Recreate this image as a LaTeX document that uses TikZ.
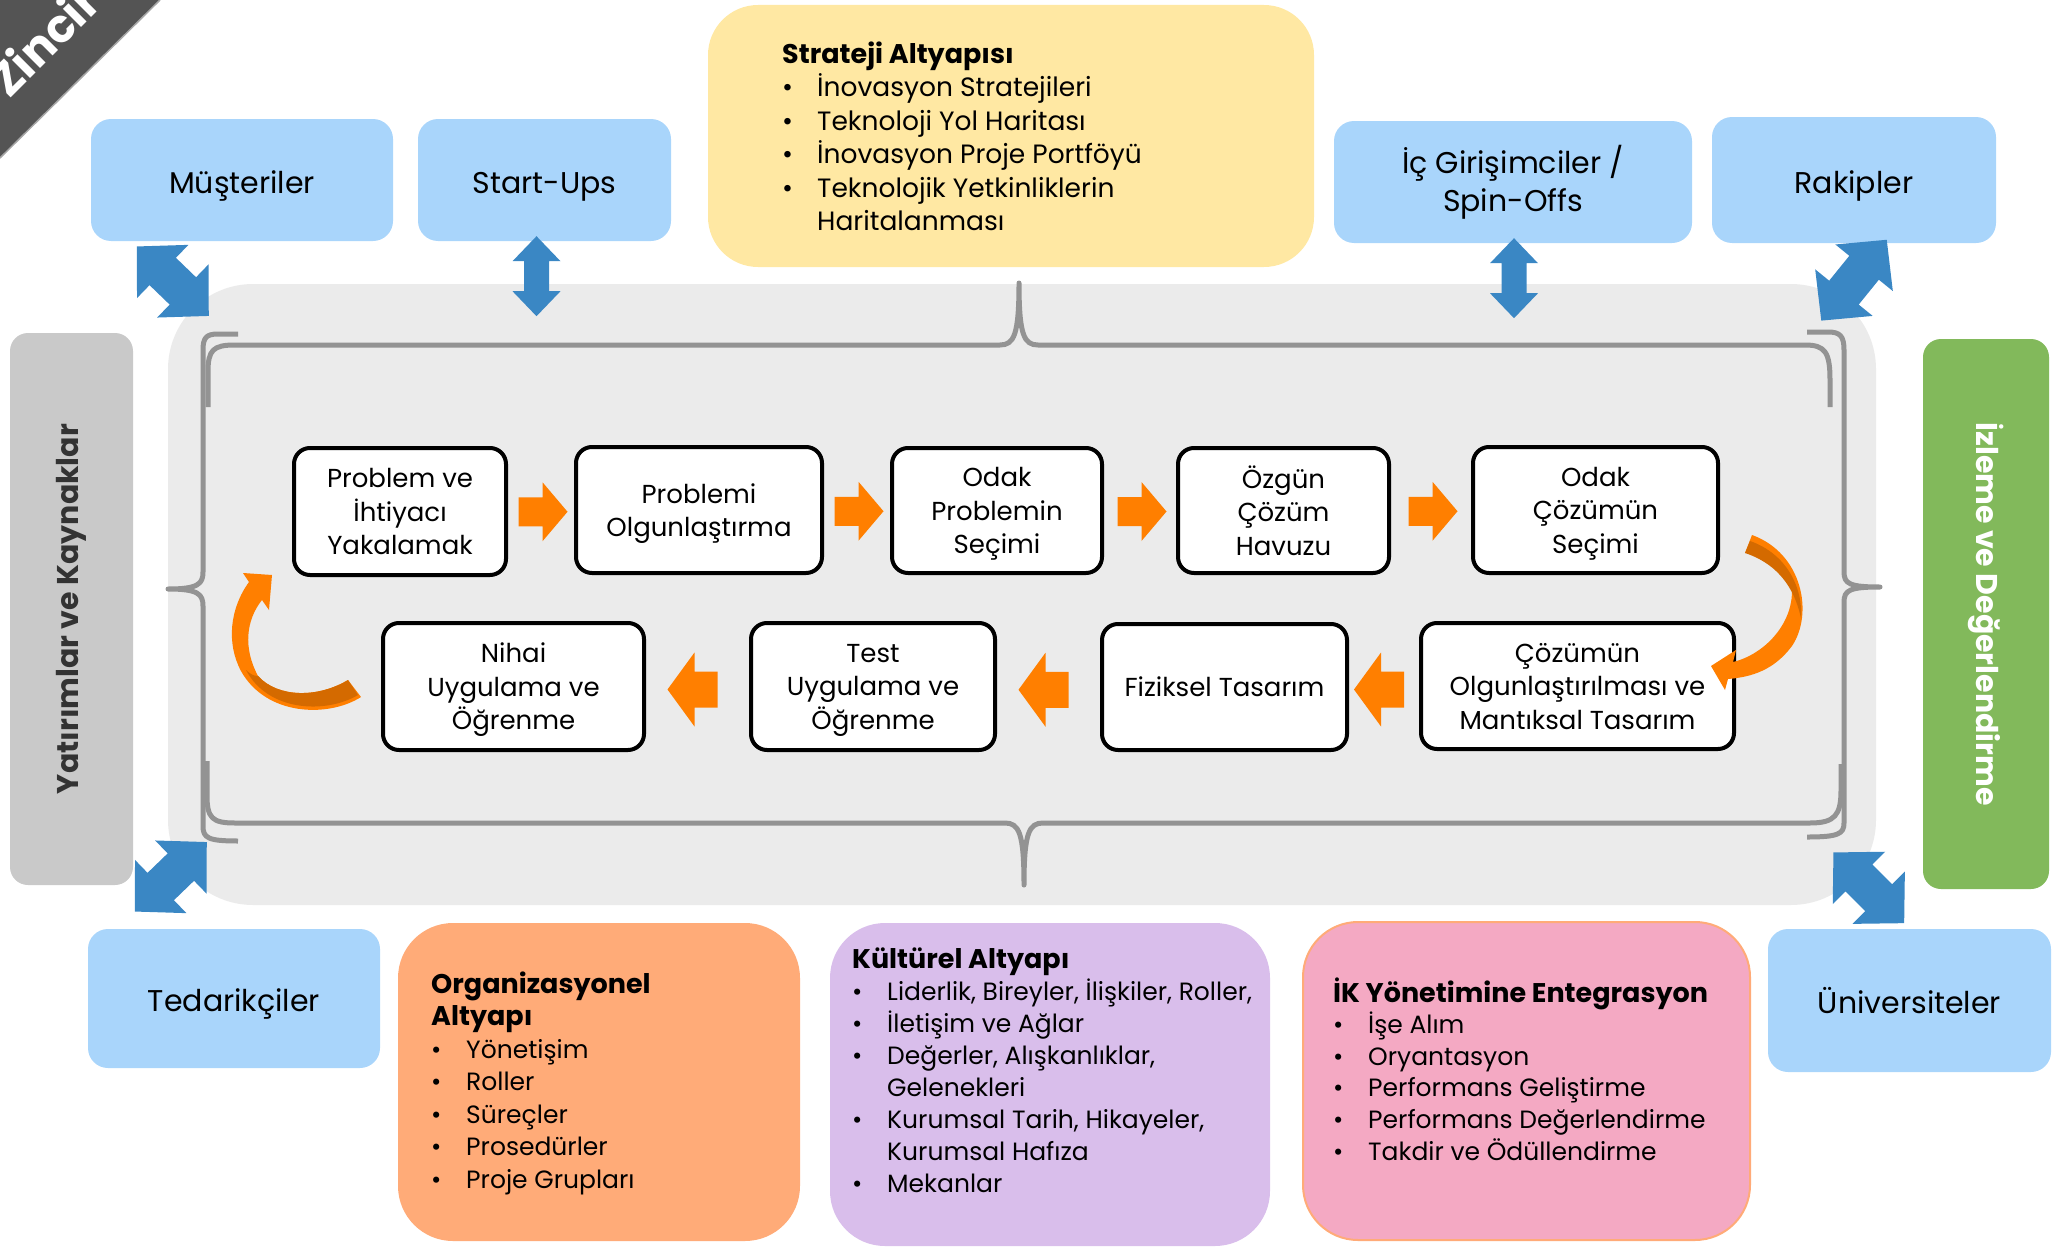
\documentclass[tikz,border=0pt]{standalone}
\usepackage{fontspec}
\setmainfont{Poppins}
\usetikzlibrary{calc}

\definecolor{skyblue}{HTML}{A9D5FB}
\definecolor{arrblue}{HTML}{3A87C4}
\definecolor{arrorange}{HTML}{FF7F00}
\definecolor{arrdark}{HTML}{D46A00}
\definecolor{zonegray}{HTML}{EBEBEB}
\definecolor{bracegray}{HTML}{939393}
\definecolor{stratyellow}{HTML}{FFE8A3}
\definecolor{orgorange}{HTML}{FFAB78}
\definecolor{kulturlila}{HTML}{D9BEEB}
\definecolor{ikpink}{HTML}{F4A9C3}
\definecolor{izlemegreen}{HTML}{82B95B}
\definecolor{yatirimgray}{HTML}{C9C9C9}
\definecolor{bannergray}{HTML}{545454}

\newcommand{\blt}{\makebox[35pt][l]{\textbullet}}
\newcommand{\cnt}{\hspace*{35pt}}
\newcommand{\ttl}[1]{{\bfseries\fontsize{27}{32}\selectfont #1}}

\tikzset{
    outerbox/.style={fill=skyblue, rounded corners=20pt, inner sep=0pt, align=center, font=\fontsize{30}{38}\selectfont},
    oneline/.style={text height=33pt, text depth=7pt},
    procbox/.style={draw=black, line width=4pt, fill=white, rounded corners=16pt, inner sep=0pt, align=center, text depth=0pt, font=\fontsize{26}{33.5}\selectfont},
    infobox/.style={rounded corners=55pt, inner sep=0pt},
    sidebar/.style={rounded corners=18pt, inner sep=0pt, font=\bfseries\fontsize{30}{30}\selectfont},
    listtext/.style={anchor=base west, inner sep=0pt, align=left, font=\fontsize{25}{32}\selectfont},
    brace/.style={draw=bracegray, line width=5pt, line join=round},
    pics/rarr/.style n args={4}{code={
        \fill[arrorange] ({-#1/2},{-#4/2}) -- ({#1/2-#3},{-#4/2}) -- ({#1/2-#3},{-#2/2}) -- ({#1/2},0)
            -- ({#1/2-#3},{#2/2}) -- ({#1/2-#3},{#4/2}) -- ({-#1/2},{#4/2}) -- cycle;
    }},
    pics/dblarr/.style n args={4}{code={
        \fill[arrblue] ({-#1/2},0) -- ({-#1/2+#3},{#2/2}) -- ({-#1/2+#3},{#4/2}) -- ({#1/2-#3},{#4/2})
            -- ({#1/2-#3},{#2/2}) -- ({#1/2},0) -- ({#1/2-#3},{-#2/2}) -- ({#1/2-#3},{-#4/2})
            -- ({-#1/2+#3},{-#4/2}) -- ({-#1/2+#3},{-#2/2}) -- cycle;
    }},
}

\begin{document}
\begin{tikzpicture}[x=1pt,y=-1pt]
    \useasboundingbox (0,0) rectangle (2067,1247);

    \fill[bannergray] (0,0) -- (160,0) -- (0,158) -- cycle;
    \draw[gray!70, line width=1.5pt] (160,0) -- (0,158);
    \node[rotate=45, anchor=base west, text=white, inner sep=0pt, font=\bfseries\fontsize{46}{46}\selectfont] (zincir) at (9,100) {Zincir};

    \node[fill=zonegray, rounded corners=85pt, minimum width=1708pt, minimum height=621pt, inner sep=0pt] (zone) at (1022,594.5) {};

    \draw[brace] (208,407) -- (208,372) .. controls (208,350) and (213,345) .. (235,345) -- (1000,345)
        .. controls (1014,345) and (1019,335) .. (1019,283) .. controls (1019,335) and (1024,345) .. (1038,345)
        -- (1805,345) .. controls (1825,345) and (1830,352) .. (1830,380) -- (1830,407);
    \draw[brace] (207,761) -- (207,795) .. controls (207,818) and (212,823) .. (235,823) -- (1005,823)
        .. controls (1019,823) and (1024,833) .. (1024,885) .. controls (1024,833) and (1029,823) .. (1043,823)
        -- (1810,823) .. controls (1835,823) and (1841,815) .. (1841,790) -- (1841,764);
    \draw[brace] (238,334) -- (218,334) .. controls (206,334) and (203,338) .. (203,350) -- (203,572)
        .. controls (203,584) and (198,589) .. (168,589) .. controls (198,589) and (203,594) .. (203,606)
        -- (203,826) .. controls (203,838) and (208,841) .. (238,841);
    \draw[brace] (1807,332) -- (1828,332) .. controls (1840,332) and (1844,336) .. (1844,350) -- (1844,572)
        .. controls (1844,584) and (1850,587) .. (1880,587) .. controls (1850,587) and (1844,590) .. (1844,602)
        -- (1844,823) .. controls (1844,834) and (1838,837) .. (1807,837);

    \node[outerbox, oneline, minimum width=302pt, minimum height=122pt] (musteri) at (242,180) {Müşteriler};
    \node[outerbox, oneline, minimum width=253pt, minimum height=122pt] (startup) at (544.5,180) {Start-Ups};
    \node[outerbox, minimum width=358pt, minimum height=122pt] (icgir) at (1513,182) {İç Girişimciler /\\Spin-Offs};
    \node[outerbox, oneline, minimum width=284pt, minimum height=126pt] (rakip) at (1854,180) {Rakipler};
    \node[outerbox, oneline, minimum width=292pt, minimum height=139pt] (tedarik) at (234,998.5) {Tedarikçiler};
    \node[outerbox, oneline, minimum width=283pt, minimum height=143pt] (univ) at (1909.5,1000.5) {Üniversiteler};

    \node[sidebar, fill=yatirimgray, text=black!80, rotate=90, minimum width=552pt, minimum height=123pt] (yatirim) at (71.5,609) {Yatırımlar ve Kaynaklar};
    \node[sidebar, fill=izlemegreen, text=white, rotate=-90, minimum width=550pt, minimum height=126pt] (izleme) at (1986,614) {İzleme ve Değerlendirme};

    \node[infobox, fill=stratyellow, rounded corners=50pt, minimum width=606pt, minimum height=262pt] (strateji) at (1011,136) {};
    \node[listtext, font=\fontsize{26.5}{33.5}\selectfont] (strattxt) at (782,230.5) {\ttl{Strateji Altyapısı}\\
        \blt İnovasyon Stratejileri\\\blt Teknoloji Yol Haritası\\\blt İnovasyon Proje Portföyü\\
        \blt Teknolojik Yetkinliklerin\\\cnt Haritalanması};

    \node[infobox, fill=orgorange, minimum width=402pt, minimum height=318pt] (org) at (599,1082) {};
    \node[listtext, font=\fontsize{25}{32.5}\selectfont] (orgtxt) at (431,1188) {\ttl{Organizasyonel}\\\ttl{Altyapı}\\
        \blt Yönetişim\\\blt Roller\\\blt Süreçler\\\blt Prosedürler\\\blt Proje Grupları};

    \node[infobox, fill=kulturlila, minimum width=440pt, minimum height=323pt] (kultur) at (1050,1084.5) {};
    \node[listtext] (kulturtxt) at (852,1192) {\ttl{Kültürel Altyapı}\\
        \blt Liderlik, Bireyler, İlişkiler, Roller,\\\blt İletişim ve Ağlar\\\blt Değerler, Alışkanlıklar,\\
        \cnt Gelenekleri\\\blt Kurumsal Tarih, Hikayeler,\\\cnt Kurumsal Hafıza\\\blt Mekanlar};

    \node[infobox, fill=ikpink, draw=orgorange, line width=2pt, minimum width=447pt, minimum height=318pt] (ik) at (1526.5,1081) {};
    \node[listtext, font=\fontsize{25}{31.6}\selectfont] (iktxt) at (1333,1160) {\ttl{İK Yönetimine Entegrasyon}\\
        \blt İşe Alım\\\blt Oryantasyon\\\blt Performans Geliştirme\\\blt Performans Değerlendirme\\
        \blt Takdir ve Ödüllendirme};

    \node[procbox, minimum width=212pt, minimum height=127pt] (p1) at (400,511.5) {Problem ve\\İhtiyacı\\Yakalamak};
    \node[procbox, minimum width=246pt, minimum height=126pt] (p2) at (699,510) {Problemi\\Olgunlaştırma};
    \node[procbox, minimum width=210pt, minimum height=125pt] (p3) at (997,510.5) {Odak\\Problemin\\Seçimi};
    \node[procbox, minimum width=211pt, minimum height=125pt] (p4) at (1283.5,510.5) {Özgün\\Çözüm\\Havuzu};
    \node[procbox, minimum width=245pt, minimum height=126pt] (p5) at (1595.5,510) {Odak\\Çözümün\\Seçimi};
    \node[procbox, minimum width=313pt, minimum height=126pt] (p6) at (1577.5,686) {Çözümün\\Olgunlaştırılması ve\\Mantıksal Tasarım};
    \node[procbox, minimum width=245pt, minimum height=126pt] (p7) at (1224.5,687) {Fiziksel Tasarım};
    \node[procbox, minimum width=244pt, minimum height=127pt] (p8) at (873,686.5) {Test\\Uygulama ve\\Öğrenme};
    \node[procbox, minimum width=261pt, minimum height=127pt] (p9) at (513.5,686.5) {Nihai\\Uygulama ve\\Öğrenme};

    \foreach \a/\b in {p1/p2, p2/p3, p3/p4, p4/p5}
        \pic at ($(\a.east)!.5!(\b.west)+(2,1)$) {rarr={49}{59}{25}{29}};
    \foreach \a/\b in {p6/p7, p7/p8, p8/p9}
        \pic[rotate=180] at ($(\a.west)!.5!(\b.east)+(-5,3)$) {rarr={50}{74}{27}{36}};

    \begin{scope}[shift={(p6.north east)}]
        \fill[arrorange] (16,-86) .. controls (66,-68) and (78,-8) .. (56,25) .. controls (38,49) and (16,56) .. (-8,58)
            -- (-11,69) -- (-25,45) -- (0,29) -- (-3,41) .. controls (34,32) and (66,-8) .. (53,-48)
            .. controls (46,-63) and (26,-70) .. (9,-68) -- cycle;
        \fill[arrdark] (9,-68) -- (14,-80) .. controls (51,-67) and (67,-33) .. (65,-3)
            .. controls (60,-25) and (48,-55) .. (9,-68) -- cycle;
    \end{scope}
    \begin{scope}[shift={(p9.north west)}]
        \fill[arrorange] (-33,59) -- (-20,76) .. controls (-53,97) and (-115,95) .. (-140,50)
            .. controls (-155,22) and (-151,-13) .. (-132,-39) -- (-138,-48) -- (-109,-46) -- (-112,-11) -- (-119,-21)
            .. controls (-135,-1) and (-138,27) .. (-123,55) .. controls (-103,77) and (-63,77) .. (-33,59) -- cycle;
        \fill[arrdark] (-23,74) .. controls (-55,93) and (-113,91) .. (-135,49) .. controls (-131,53) and (-127,55) .. (-123,55)
            .. controls (-103,77) and (-63,77) .. (-33,59) -- cycle;
    \end{scope}

    \pic[rotate=-44] at ($(musteri.south west)+(82,40)$) {dblarr={100}{74}{36}{38}};
    \pic[rotate=90] at ($(startup.south)+(-8,35)$) {dblarr={80}{48}{25}{25}};
    \pic[rotate=90] at ($(icgir.south)+(1,35)$) {dblarr={80}{48}{25}{25}};
    \pic[rotate=51] at ($(rakip.south)+(0,37)$) {dblarr={104}{74}{36}{38}};
    \pic[rotate=44] at ($(tedarik.north west)+(83,-52)$) {dblarr={100}{74}{36}{38}};
    \pic[rotate=-45] at ($(univ.north west)+(101,-41)$) {dblarr={100}{74}{36}{38}};
\end{tikzpicture}
\end{document}
